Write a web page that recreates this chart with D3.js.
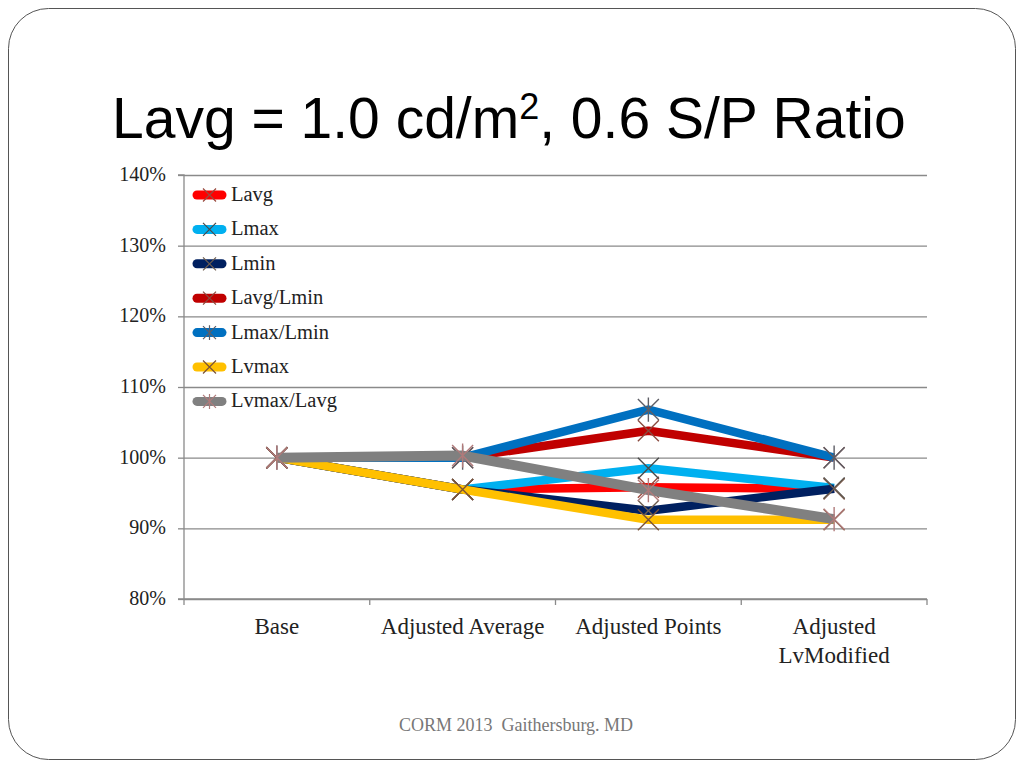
<!DOCTYPE html>
<html><head><meta charset="utf-8">
<script src="https://cdn.jsdelivr.net/npm/d3@7"></script>
<style>
html,body{margin:0;padding:0;background:#fff;}
svg{display:block;}
</style></head>
<body>
<svg id="chart" width="1024" height="768"></svg>
<script>
const categories = ["Base", "Adjusted Average", "Adjusted Points", "Adjusted LvModified"];
const seriesNames = ["Lavg", "Lmax", "Lmin", "Lavg/Lmin", "Lmax/Lmin", "Lvmax", "Lvmax/Lavg"];
const lavg      = [1.000, 0.955, 0.958, 0.956];
const lmax      = [1.000, 0.955, 0.985, 0.957];
const lmin      = [1.000, 0.955, 0.925, 0.956];
const lavgLmin  = [1.000, 1.000, 1.038, 1.000];
const lmaxLmin  = [1.000, 1.000, 1.068, 1.000];
const lvmax     = [1.000, 0.955, 0.912, 0.912];
const lvmaxLavg = [1.000, 1.003, 0.954, 0.913];
const yTicks = [0.8, 0.9, 1.0, 1.1, 1.2, 1.3, 1.4];
const seriesColors = ["#FF0000", "#00B0F0", "#002060", "#C00000", "#0070C0", "#FFC000", "#808080"];
const markerColors = ["#9a4a3e", "#4a4a4a", "#6e5e50", "#8a4a3e", "#5e5e66", "#7a5238", "#b07a7a"];
const markerTypes = ["x", "x", "x", "x", "star", "x", "star"];
const seriesValues = [lavg, lmax, lmin, lavgLmin, lmaxLmin, lvmax, lvmaxLavg];

const svg = d3.select("#chart");
const serif = "'Liberation Serif', 'DejaVu Serif', serif";

// slide frame
svg.append("rect").attr("x", 8.5).attr("y", 8.5).attr("width", 1007).attr("height", 751)
  .attr("rx", 40).attr("ry", 40).attr("fill", "#fff").attr("stroke", "#555").attr("stroke-width", 1);

// title
const title = svg.append("text").attr("x", 112).attr("y", 138)
  .attr("font-family", "'Liberation Sans', Arial, sans-serif").attr("font-size", 57).attr("fill", "#000");
title.append("tspan").text("Lavg = 1.0 cd/m");
title.append("tspan").attr("font-size", 36).attr("dy", -19).text("2");
title.append("tspan").attr("dy", 19).text(", 0.6 S/P Ratio");

const pLeft = 184, pRight = 927, pTop = 175, pBottom = 599;
const x = d3.scaleBand().domain(categories).range([pLeft, pRight]).paddingInner(0).paddingOuter(0);
const cx = c => x(c) + x.bandwidth() / 2;
const y = d3.scaleLinear().domain([0.8, 1.4]).range([pBottom, pTop]);

// gridlines
const grid = svg.append("g").attr("transform", `translate(${pLeft},0)`)
  .call(d3.axisLeft(y).tickValues(yTicks).tickSize(-(pRight - pLeft)).tickFormat(""));
grid.select(".domain").remove();
grid.selectAll(".tick line").attr("stroke", "#8a8a8a").attr("stroke-width", 1.3);

// y axis
const yAxis = svg.append("g").attr("transform", `translate(${pLeft},0)`)
  .call(d3.axisLeft(y).tickValues(yTicks).tickSize(6).tickPadding(12).tickFormat(d3.format(".0%")));
yAxis.select(".domain").attr("stroke", "#8a8a8a").attr("stroke-width", 1.3).attr("d", `M-6,${pTop}H0V${pBottom}H-6`);
yAxis.selectAll(".tick line").attr("stroke", "#8a8a8a").attr("stroke-width", 1.3);
yAxis.selectAll(".tick text").attr("font-family", serif).attr("font-size", 20).attr("fill", "#222")
  .attr("dy", "0.28em");

// x axis
const xAxis = svg.append("g").attr("transform", `translate(0,${pBottom})`);
xAxis.append("line").attr("x1", pLeft).attr("x2", pRight).attr("y1", 0).attr("y2", 0)
  .attr("stroke", "#8a8a8a").attr("stroke-width", 1.3);
const bounds = categories.map(c => x(c)).concat([pRight]);
xAxis.selectAll("line.tk").data(bounds).enter().append("line").attr("class", "tk")
  .attr("x1", d => d).attr("x2", d => d).attr("y1", 0).attr("y2", 6)
  .attr("stroke", "#8a8a8a").attr("stroke-width", 1.3);
const catLines = {"Adjusted LvModified": ["Adjusted", "LvModified"]};
categories.forEach(c => {
  const lines = catLines[c] || [c];
  const t = xAxis.append("text").attr("x", cx(c)).attr("y", 35).attr("text-anchor", "middle")
    .attr("font-family", serif).attr("font-size", 23).attr("fill", "#222");
  lines.forEach((l, i) => t.append("tspan").attr("x", cx(c)).attr("dy", i === 0 ? 0 : 29).text(l));
});

function drawMarker(g, px, py, type, color, r, sw) {
  g.append("path").attr("d", `M${px - r},${py - r}L${px + r},${py + r}M${px - r},${py + r}L${px + r},${py - r}` +
    (type === "star" ? `M${px},${py - r * 1.15}L${px},${py + r * 1.15}` : ""))
    .attr("stroke", color).attr("stroke-width", sw).attr("fill", "none");
}

// series
const line = d3.line().x((d, i) => cx(categories[i])).y(d => y(d));
seriesValues.forEach((vals, s) => {
  const g = svg.append("g");
  g.append("path").datum(vals).attr("d", line).attr("fill", "none")
    .attr("stroke", seriesColors[s]).attr("stroke-width", s === 6 ? 10 : 8.5)
    .attr("stroke-linejoin", "round").attr("stroke-linecap", "butt");
  vals.forEach((v, i) => drawMarker(g, cx(categories[i]), y(v), markerTypes[s], markerColors[s], 10.5, 1.4));
});

// legend
const legend = svg.append("g");
seriesNames.forEach((n, i) => {
  const ly = 195 + i * 34.4;
  legend.append("line").attr("x1", 197).attr("x2", 222).attr("y1", ly).attr("y2", ly)
    .attr("stroke", seriesColors[i]).attr("stroke-width", 9).attr("stroke-linecap", "round");
  drawMarker(legend, 209.5, ly, markerTypes[i], markerColors[i], 6.5, 1.2);
  legend.append("text").attr("x", 231).attr("y", ly + 6).attr("font-family", serif)
    .attr("font-size", 20.5).attr("fill", "#222").text(n);
});

// footer
svg.append("text").attr("x", 516).attr("y", 731).attr("text-anchor", "middle")
  .attr("font-family", serif).attr("font-size", 18).attr("fill", "#777")
  .style("white-space", "pre")
  .text("CORM 2013  Gaithersburg. MD");
</script>
</body></html>
